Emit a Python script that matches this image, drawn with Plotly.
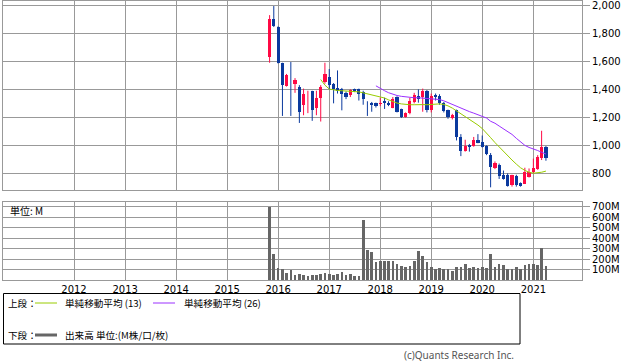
import plotly.graph_objects as go
import pandas as pd
from datetime import datetime, timedelta

W, H = 638, 362

# ---------------- data ----------------
months = pd.date_range("2015-11-01", "2021-04-01", freq="MS")

opens = [1630, 1905, 1845, 1585, 1425, 1455, 1440, 1420, 1290, 1350, 1390, 1270,
         1335, 1450, 1490, 1440, 1410, 1400, 1375, 1360, 1400, 1400, 1380, 1305,
         1300, 1300, 1298, 1320, 1305, 1270, 1345, 1258, 1202, 1230, 1312, 1352,
         1345, 1385, 1252, 1360, 1355, 1300, 1250, 1195, 1252, 1057, 961, 1002,
         995, 1038, 1026, 995, 931, 836, 859, 788, 788, 716, 780, 729,
         724, 776, 811, 829, 907, 990]
highs = [1930, 1995, 1850, 1590, 1510, 1595, 1480, 1430, 1405, 1390, 1390, 1390,
         1430, 1590, 1545, 1445, 1535, 1410, 1385, 1400, 1405, 1405, 1390, 1315,
         1310, 1305, 1340, 1340, 1315, 1345, 1350, 1262, 1235, 1340, 1375, 1400,
         1405, 1395, 1370, 1370, 1365, 1310, 1255, 1225, 1255, 1080, 1040, 1010,
         1060, 1080, 1070, 1000, 945, 885, 870, 820, 800, 790, 790, 735,
         840, 835, 905, 930, 1104, 995]
lows = [1590, 1845, 1585, 1210, 1420, 1210, 1375, 1160, 1215, 1230, 1175, 1215,
        1170, 1440, 1400, 1300, 1370, 1250, 1330, 1345, 1380, 1320, 1290, 1210,
        1240, 1270, 1280, 1260, 1280, 1265, 1235, 1195, 1198, 1222, 1300, 1305,
        1240, 1235, 1235, 1320, 1290, 1235, 1190, 1185, 1035, 923, 955, 955,
        990, 1015, 985, 930, 700, 830, 760, 755, 705, 705, 705, 705,
        724, 770, 800, 825, 895, 890]
closes = [1900, 1850, 1590, 1430, 1500, 1450, 1465, 1235, 1370, 1355, 1255, 1335,
          1420, 1510, 1430, 1400, 1385, 1365, 1345, 1395, 1385, 1370, 1330, 1300,
          1285, 1280, 1302, 1300, 1290, 1330, 1240, 1205, 1230, 1315, 1360, 1330,
          1390, 1252, 1355, 1345, 1300, 1245, 1200, 1215, 1057, 961, 995, 990,
          1038, 1019, 986, 938, 843, 871, 781, 757, 709, 788, 716, 709,
          811, 811, 836, 919, 986, 907]
volumes_m = [693, 247, 118, 103, 72, 93, 54, 63, 54, 44, 54, 54,
             63, 72, 63, 54, 63, 81, 54, 63, 44, 44, 571, 284,
             267, 177, 186, 186, 186, 186, 155, 140, 130, 140, 185, 277,
             232, 177, 130, 104, 118, 106, 106, 90, 126, 126, 155, 118,
             128, 118, 128, 118, 247, 128, 155, 146, 106, 106, 128, 106,
             146, 155, 155, 146, 309, 140]

sma13_months = pd.date_range("2016-11-01", "2021-04-01", freq="MS")
sma13 = [1470, 1430,
         1402, 1395, 1392, 1390, 1388, 1386, 1385, 1382, 1375, 1368, 1360, 1355,
         1347, 1338, 1325, 1312, 1302, 1296, 1292, 1290, 1290, 1292, 1291, 1290,
         1292, 1295, 1296, 1292, 1282, 1266, 1247, 1226, 1206, 1186, 1166, 1145,
         1120, 1090, 1055, 1020, 988, 955, 921, 895, 866, 840, 821, 808,
         801, 803, 808, 816]
sma26_months = pd.date_range("2017-12-01", "2021-04-01", freq="MS")
sma26 = [1425,
         1405, 1390, 1376, 1365, 1356, 1350, 1345, 1341, 1340, 1340, 1338, 1337,
         1335, 1333, 1327, 1318, 1305, 1290, 1277, 1263, 1251, 1241, 1230, 1219,
         1210, 1195, 1172, 1158, 1138, 1118, 1098, 1078, 1050, 1022, 1000, 985,
         975, 963, 950, 938]

year_ticks = ["2012-01-01", "2013-01-01", "2014-01-01", "2015-01-01", "2016-01-01",
              "2017-01-01", "2018-01-01", "2019-01-01", "2020-01-01", "2021-01-01"]
year_labels = ["2012", "2013", "2014", "2015", "2016", "2017", "2018", "2019", "2020", "2021"]
price_ticks = [800, 1000, 1200, 1400, 1600, 1800, 2000]
price_labels = ["800", "1,000", "1,200", "1,400", "1,600", "1,800", "2,000"]
vol_ticks = [100, 200, 300, 400, 500, 600, 700]
vol_tick_text = ["100M", "200M", "300M", "400M", "500M", "600M", "700M"]

# ---------------- styling ----------------
RED = "#ff0a45"
BLUE = "#0b3a9e"
GREEN = "#99cc00"
PURPLE = "#9b30ff"
GRID = "#999999"
FONT = "DejaVu Sans"
JFONT = "Noto Sans CJK JP"


def px(x):
    return x / W


def py(y):
    return 1 - y / H


DAY = 86400000
x_start = datetime(2012, 1, 1) + timedelta(days=-(71 / 51.03) * 365.25)
x_end = datetime(2012, 1, 1) + timedelta(days=(508 / 51.03) * 365.25)

fig = go.Figure()

# wicks
for up, col in ((True, RED), (False, BLUE)):
    wx, wy = [], []
    for d, o, h, l, c in zip(months, opens, highs, lows, closes):
        if (c >= o) == up:
            wx += [d, d, None]
            wy += [l, h, None]
    fig.add_trace(go.Scatter(x=wx, y=wy, mode="lines", line=dict(color=col, width=1),
                             xaxis="x", yaxis="y", hoverinfo="skip", showlegend=False))

# bodies
for up, col in ((True, RED), (False, BLUE)):
    bx, bb, bh = [], [], []
    for d, o, c in zip(months, opens, closes):
        if (c >= o) == up:
            bx.append(d)
            bb.append(min(o, c))
            bh.append(max(abs(c - o), 6))
    fig.add_trace(go.Bar(x=bx, y=bh, base=bb, width=23 * DAY, marker=dict(color=col, line=dict(width=0)),
                         xaxis="x", yaxis="y", showlegend=False))

# moving averages
fig.add_trace(go.Scatter(x=sma13_months, y=sma13, mode="lines", line=dict(color=GREEN, width=1),
                         xaxis="x", yaxis="y", showlegend=False))
fig.add_trace(go.Scatter(x=sma26_months, y=sma26, mode="lines", line=dict(color=PURPLE, width=1),
                         xaxis="x", yaxis="y", showlegend=False))

# volume
fig.add_trace(go.Bar(x=months, y=volumes_m, width=19 * DAY, marker=dict(color="#666666", line=dict(width=0)),
                     xaxis="x2", yaxis="y2", showlegend=False))

common_x = dict(type="date", range=[x_start, x_end], showgrid=True, gridcolor=GRID, gridwidth=1,
                tickmode="array", tickvals=year_ticks, ticktext=year_labels,
                showline=True, linecolor=GRID, linewidth=1,
                mirror=True, zeroline=False, domain=[px(3), px(582)], ticks="")

fig.update_layout(
    width=W, height=H, autosize=False,
    margin=dict(l=0, r=0, t=0, b=0),
    paper_bgcolor="white", plot_bgcolor="white",
    barmode="overlay", bargap=0,
    font=dict(family=FONT, size=10, color="#000000"),
    xaxis=dict(common_x, anchor="y", showticklabels=False),
    xaxis2=dict(common_x, anchor="y2", showticklabels=True,
                tickfont=dict(family=FONT, size=10, color="#000")),
    yaxis=dict(domain=[py(190), py(1)], range=[681, 2031], side="right", anchor="x",
               tickmode="array", tickvals=price_ticks, ticktext=price_labels,
               ticks="outside", ticklen=7, tickcolor=GRID, ticklabeloverflow="allow",
               showgrid=True, gridcolor=GRID, showline=True, linecolor=GRID, mirror=True,
               zeroline=False, tickfont=dict(family=FONT, size=10, color="#000")),
    yaxis2=dict(domain=[py(280.2), py(201.7)], range=[0, 748], side="right", anchor="x2",
                tickmode="array", tickvals=vol_ticks, ticktext=vol_tick_text,
                ticks="outside", ticklen=7, tickcolor=GRID, ticklabeloverflow="allow",
                showgrid=True, gridcolor=GRID, showline=True, linecolor=GRID, mirror=True,
                zeroline=False, tickfont=dict(family=FONT, size=10, color="#000")),
)

shapes = [
    dict(type="rect", xref="paper", yref="paper", x0=px(3.5), x1=px(520), y0=py(344), y1=py(293.5),
         line=dict(color="#000", width=1), fillcolor="rgba(0,0,0,0)"),
    dict(type="line", xref="paper", yref="paper", x0=px(35), x1=px(57), y0=py(303), y1=py(303),
         line=dict(color=GREEN, width=1)),
    dict(type="line", xref="paper", yref="paper", x0=px(153), x1=px(175), y0=py(303), y1=py(303),
         line=dict(color=PURPLE, width=1)),
    dict(type="line", xref="paper", yref="paper", x0=px(35), x1=px(57), y0=py(335), y1=py(335),
         line=dict(color="#666666", width=3)),
]
fig.update_layout(shapes=shapes)

LEG = 9.6
ann = [
    dict(text="単位: M", x=px(8), y=py(210), xanchor="left", yanchor="middle", font=dict(family=JFONT, size=10)),
    dict(text="上段：", x=px(6), y=py(303), xanchor="left", yanchor="middle", font=dict(family=JFONT, size=LEG)),
    dict(text="単純移動平均 (13)", x=px(63), y=py(303), xanchor="left", yanchor="middle", font=dict(family=JFONT, size=LEG)),
    dict(text="単純移動平均 (26)", x=px(182), y=py(303), xanchor="left", yanchor="middle", font=dict(family=JFONT, size=LEG)),
    dict(text="下段：", x=px(6), y=py(335), xanchor="left", yanchor="middle", font=dict(family=JFONT, size=LEG)),
    dict(text="出来高 単位:(M株/口/枚)", x=px(63), y=py(335), xanchor="left", yanchor="middle", font=dict(family=JFONT, size=LEG)),
    dict(text="(c)Quants Research Inc.", x=px(516), y=py(355), xanchor="right", yanchor="middle",
         font=dict(family="Noto Sans", size=10, color="#555")),
]
for a in ann:
    a.update(xref="paper", yref="paper", showarrow=False)
fig.update_layout(annotations=ann)

fig.write_html("out.html", config={"displayModeBar": False, "staticPlot": True},
               post_script="document.body.style.margin='0px';document.body.style.overflow='hidden';")
